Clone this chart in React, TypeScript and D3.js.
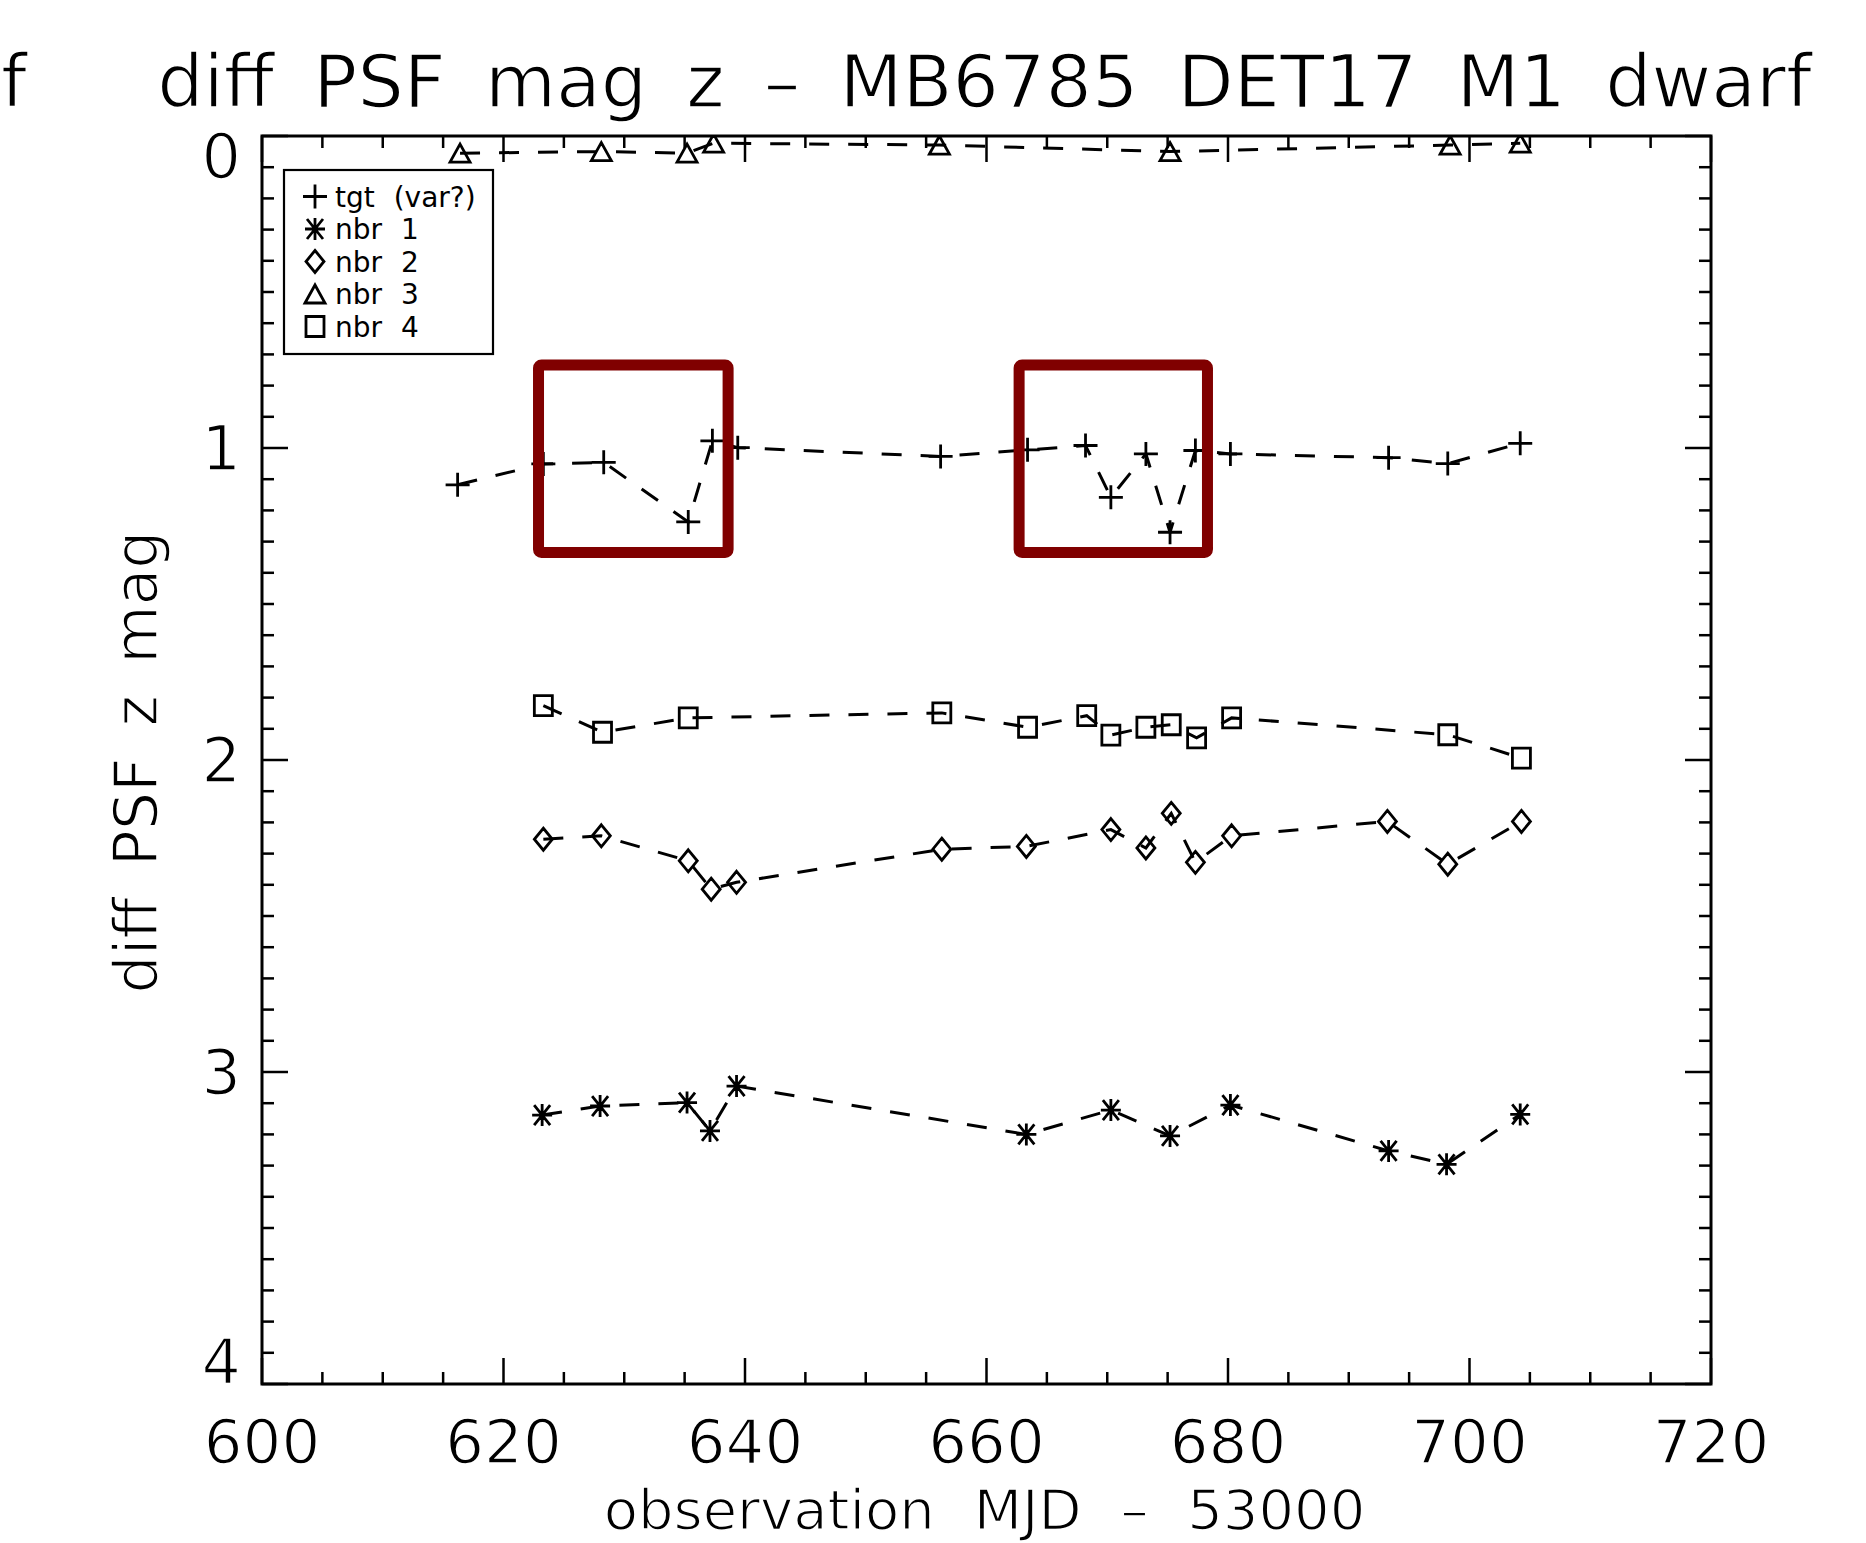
import React, { useEffect, useRef } from 'react';
import * as d3 from 'd3';

// target and neighbour light curves (MJD - 53000, diff PSF z mag)
const tgtMjd = [616.2, 623.3, 628.3, 635.3, 637.3, 639.4, 656.2, 663.4, 668.2, 670.3, 673.2, 675.2, 677.3, 680.2, 693.3, 698.2, 704.2];
const tgtMag = [1.118, 1.051, 1.046, 1.237, 0.977, 0.999, 1.027, 1.006, 0.992, 1.158, 1.019, 1.27, 1.008, 1.019, 1.031, 1.05, 0.985];

const nbr1Mjd = [623.2, 628.0, 635.2, 637.1, 639.3, 663.3, 670.3, 675.2, 680.2, 693.3, 698.1, 704.2];
const nbr1Mag = [3.138, 3.109, 3.098, 3.189, 3.045, 3.2, 3.122, 3.205, 3.106, 3.253, 3.296, 3.136];

const nbr2Mjd = [623.3, 628.1, 635.3, 637.2, 639.3, 656.3, 663.3, 670.3, 673.2, 675.3, 677.3, 680.3, 693.2, 698.2, 704.3];
const nbr2Mag = [2.254, 2.243, 2.323, 2.414, 2.392, 2.286, 2.277, 2.223, 2.282, 2.171, 2.328, 2.243, 2.197, 2.334, 2.197];

const nbr3Mjd = [616.4, 628.1, 635.2, 637.4, 656.1, 675.2, 698.4, 704.2];
const nbr3Mag = [0.055, 0.05, 0.055, 0.023, 0.029, 0.05, 0.029, 0.023];

const nbr4Mjd = [623.3, 628.2, 635.3, 656.3, 663.4, 668.3, 670.3, 673.2, 675.3, 677.4, 680.3, 698.2, 704.3];
const nbr4Mag = [1.826, 1.911, 1.865, 1.849, 1.895, 1.858, 1.92, 1.895, 1.887, 1.929, 1.865, 1.919, 1.994];

const xTicks = [600, 620, 640, 660, 680, 700, 720];
const yTicks = [0, 1, 2, 3, 4];
const legendLabels = ['tgt (var?)', 'nbr 1', 'nbr 2', 'nbr 3', 'nbr 4'];
const symbolTypes = ['plus', 'asterisk', 'diamond', 'triangle', 'square'];

// highlighted dips (annotation boxes), in data units
const boxMjd = [[622.9, 638.6], [662.7, 678.3]];
const boxMag = [0.734, 1.335];

const FONT = "'DejaVu Sans', Verdana, sans-serif";

const symbolPath = (type, cx, cy) => {
  switch (type) {
    case 'plus':
      return `M${cx - 12},${cy}H${cx + 12}M${cx},${cy - 12}V${cy + 12}`;
    case 'asterisk':
      return `M${cx - 10},${cy}H${cx + 10}M${cx},${cy - 11}V${cy + 11}M${cx - 8},${cy - 10}L${cx + 8},${cy + 10}M${cx - 8},${cy + 10}L${cx + 8},${cy - 10}`;
    case 'diamond':
      return `M${cx},${cy - 11}L${cx + 9},${cy}L${cx},${cy + 11}L${cx - 9},${cy}Z`;
    case 'triangle':
      return `M${cx - 10},${cy + 9}L${cx},${cy - 9}L${cx + 10},${cy + 9}Z`;
    default:
      return `M${cx - 9},${cy - 10}h18v20h-18Z`;
  }
};

// thin the glyph strokes a little with a white outline painted over the fill
const thinText = sel => sel
  .attr('font-family', FONT)
  .attr('fill', '#000')
  .attr('stroke', '#fff')
  .attr('stroke-width', 1.6)
  .attr('paint-order', 'fill');

const App = () => {
  const svgRef = useRef(null);

  useEffect(() => {
    if (!svgRef.current) return;
    const width = 1866;
    const height = 1543;
    const margin = { top: 136, right: 155, bottom: 159, left: 262 };
    const x0 = margin.left;
    const x1 = width - margin.right;
    const y0 = margin.top;
    const y1 = height - margin.bottom;

    const svg = d3.select(svgRef.current);
    svg.selectAll('*').remove();
    svg.attr('width', width).attr('height', height);

    svg.append('rect').attr('width', width).attr('height', height).attr('fill', '#fff');

    const x = d3.scaleLinear().domain([600, 720]).range([x0, x1]);
    const y = d3.scaleLinear().domain([0, 4]).range([y0, y1]);

    svg.append('defs').append('clipPath').attr('id', 'plotClip')
      .append('rect')
      .attr('x', x0).attr('y', y0)
      .attr('width', x1 - x0).attr('height', y1 - y0);

    // series
    const series = [
      { mjd: tgtMjd, mag: tgtMag },
      { mjd: nbr1Mjd, mag: nbr1Mag },
      { mjd: nbr2Mjd, mag: nbr2Mag },
      { mjd: nbr3Mjd, mag: nbr3Mag },
      { mjd: nbr4Mjd, mag: nbr4Mag }
    ];

    const plot = svg.append('g').attr('clip-path', 'url(#plotClip)');
    const line = d3.line().x(d => x(d[0])).y(d => y(d[1]));

    series.forEach((s, i) => {
      const pts = s.mjd.map((m, j) => [m, s.mag[j]]);
      plot.append('path')
        .attr('d', line(pts))
        .attr('fill', 'none')
        .attr('stroke', '#000')
        .attr('stroke-width', 3)
        .attr('stroke-dasharray', '20,19');
      plot.append('path')
        .attr('d', pts.map(p => symbolPath(symbolTypes[i], x(p[0]), y(p[1]))).join(''))
        .attr('fill', 'none')
        .attr('stroke', '#000')
        .attr('stroke-width', 2.8);
    });

    // frame
    svg.append('rect')
      .attr('x', x0).attr('y', y0)
      .attr('width', x1 - x0).attr('height', y1 - y0)
      .attr('fill', 'none')
      .attr('stroke', '#000')
      .attr('stroke-width', 3);

    // ticks on all four sides
    const ticks = svg.append('g').attr('stroke', '#000').attr('stroke-width', 2.5);
    d3.range(600, 720.01, 5).forEach(v => {
      const len = v % 20 === 0 ? 26 : 12;
      ticks.append('line').attr('x1', x(v)).attr('x2', x(v)).attr('y1', y1).attr('y2', y1 - len);
      ticks.append('line').attr('x1', x(v)).attr('x2', x(v)).attr('y1', y0).attr('y2', y0 + len);
    });
    d3.range(0, 41).forEach(k => {
      const v = k / 10;
      const len = k % 10 === 0 ? 26 : 12;
      ticks.append('line').attr('x1', x0).attr('x2', x0 + len).attr('y1', y(v)).attr('y2', y(v));
      ticks.append('line').attr('x1', x1).attr('x2', x1 - len).attr('y1', y(v)).attr('y2', y(v));
    });

    // tick labels
    svg.append('g').selectAll('text')
      .data(xTicks)
      .enter()
      .append('text')
      .attr('x', d => x(d))
      .attr('y', 1463)
      .attr('text-anchor', 'middle')
      .attr('font-size', '61px')
      .call(thinText)
      .text(d => d);

    svg.append('g').selectAll('text')
      .data(yTicks)
      .enter()
      .append('text')
      .attr('x', 241)
      .attr('y', d => Math.min(Math.max(y(d), y0 + 20), y1 - 22) + 22)
      .attr('text-anchor', 'end')
      .attr('font-size', '62px')
      .call(thinText)
      .text(d => d);

    // titles
    svg.append('text')
      .attr('x', (x0 + x1) / 2 - 2)
      .attr('y', 107)
      .attr('text-anchor', 'middle')
      .attr('font-size', '73px')
      .attr('word-spacing', '16px')
      .call(thinText)
      .text('diff PSF mag z \u2013 MB6785 DET17 M1 dwarf');

    // tail of the neighbouring panel's title
    svg.append('text')
      .attr('x', 1)
      .attr('y', 107)
      .attr('font-size', '73px')
      .call(thinText)
      .text('f');

    svg.append('text')
      .attr('x', (x0 + x1) / 2 - 2)
      .attr('y', 1529)
      .attr('text-anchor', 'middle')
      .attr('font-size', '56px')
      .attr('word-spacing', '21px')
      .call(thinText)
      .text('observation MJD \u2013 53000');

    svg.append('text')
      .attr('transform', `translate(157, ${(y0 + y1) / 2 + 2}) rotate(-90)`)
      .attr('text-anchor', 'middle')
      .attr('font-size', '60px')
      .attr('word-spacing', '12px')
      .call(thinText)
      .text('diff PSF z mag');

    // legend
    const legend = svg.append('g');
    legend.append('rect')
      .attr('x', 284).attr('y', 170)
      .attr('width', 209).attr('height', 184)
      .attr('fill', '#fff')
      .attr('stroke', '#000')
      .attr('stroke-width', 2.2);
    legendLabels.forEach((label, i) => {
      const cy = 196.5 + i * 32.5;
      legend.append('path')
        .attr('d', symbolPath(symbolTypes[i], 315, cy))
        .attr('fill', 'none')
        .attr('stroke', '#000')
        .attr('stroke-width', 2.8);
      legend.append('text')
        .attr('x', 335)
        .attr('y', cy + 10)
        .attr('font-size', '28px')
        .attr('word-spacing', '10px')
        .attr('font-family', FONT)
        .attr('fill', '#000')
        .text(label);
    });

    // annotation boxes around the dips
    boxMjd.forEach(b => {
      svg.append('rect')
        .attr('x', x(b[0]))
        .attr('y', y(boxMag[0]))
        .attr('width', x(b[1]) - x(b[0]))
        .attr('height', y(boxMag[1]) - y(boxMag[0]))
        .attr('rx', 3)
        .attr('fill', 'none')
        .attr('stroke', '#800000')
        .attr('stroke-width', 11);
    });
  }, []);

  return <svg ref={svgRef} style={{ position: 'absolute', left: 0, top: 0 }}></svg>;
};

export default App;
